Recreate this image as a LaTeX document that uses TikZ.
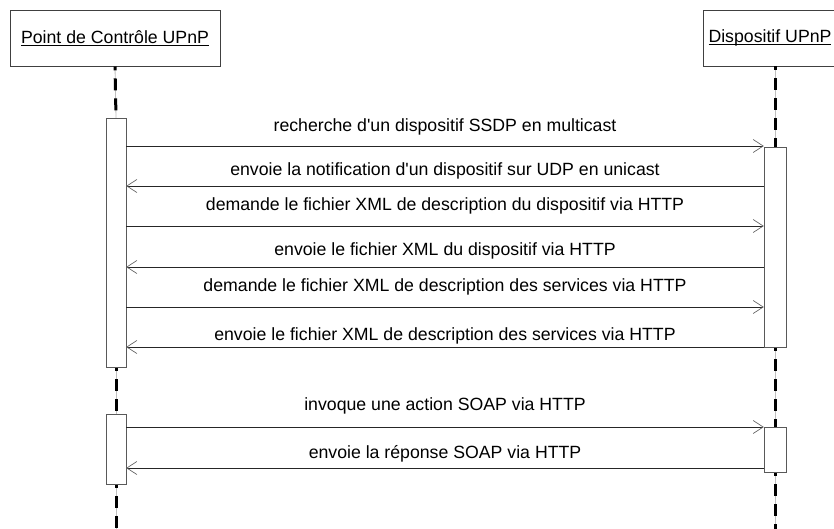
\documentclass[tikz,border=0pt]{standalone}
\usepackage{fontspec}
\setmainfont{Liberation Sans}[Ligatures=TeXOff]
\usetikzlibrary{arrows.meta}
\newcommand\myul[1]{\setbox0\hbox{#1}\rlap{\rule[-2.8pt]{\wd0}{0.9pt}}\box0}
\begin{document}
\begin{tikzpicture}[x=1pt,y=-1pt,
  font=\fontsize{17.7}{20}\selectfont,
  head/.style={draw=black!75,fill=white,line width=0.9pt,minimum height=56pt,inner sep=0pt},
  actbox/.style={draw=black!65,fill=white,line width=0.9pt,inner sep=0pt},
  life/.style={draw=black!25,line width=0.8pt,
    postaction={draw=black,line width=3pt,dash pattern=on 12pt off 8pt,dash phase=8pt}},
  msg/.style={draw=black!85,line width=1pt,
    -{Straight Barb[length=10pt,width=13pt,line width=0.7pt,color=black!60]}},
  lbl/.style={anchor=base,inner sep=0pt}]
\useasboundingbox (0,0) rectangle (834,528);
\clip (0,0) rectangle (834,528);
% heads
\node[head,minimum width=210pt] (pc) at (115,38) {\myul{Point de Contrôle UPnP}};
\node[head,minimum width=144pt] (dev) at (775,38) {\myul{Dispositif UPnP}\hspace*{10pt}};
% activation boxes (positions)
\coordinate (a1c) at (116,242.5);
\coordinate (a2c) at (116,449);
\coordinate (b1c) at (775,247);
\coordinate (b2c) at (775,449.5);
\coordinate (lend) at (116,530);
\coordinate (rend) at (775,530);
% lifelines
\path (a1c) node[minimum width=20pt,minimum height=249pt,inner sep=0pt] (a1) {};
\path (a2c) node[minimum width=20pt,minimum height=70pt,inner sep=0pt] (a2) {};
\path (b1c) node[minimum width=22pt,minimum height=200pt,inner sep=0pt] (b1) {};
\path (b2c) node[minimum width=22pt,minimum height=45pt,inner sep=0pt] (b2) {};
\draw[life] (pc.south) -- (a1.north);
\draw[life] (a1.south) -- (a2.north);
\draw[life] (a2.south) -- (lend);
\draw[life] (dev.south) -- (b1.north);
\draw[life] (b1.south) -- (b2.north);
\draw[life] (b2.south) -- (rend);
% draw activation boxes on top
\node[actbox,minimum width=20pt,minimum height=249pt] at (a1c) {};
\node[actbox,minimum width=20pt,minimum height=70pt] at (a2c) {};
\node[actbox,minimum width=22pt,minimum height=200pt] at (b1c) {};
\node[actbox,minimum width=22pt,minimum height=45pt] at (b2c) {};
% messages
\draw[msg] (a1.east |- 0,146) -- (b1.west |- 0,146);
\draw[msg] (b1.west |- 0,186) -- (a1.east |- 0,186);
\draw[msg] (a1.east |- 0,226) -- (b1.west |- 0,226);
\draw[msg] (b1.west |- 0,267) -- (a1.east |- 0,267);
\draw[msg] (a1.east |- 0,307) -- (b1.west |- 0,307);
\draw[msg] (b1.west |- 0,347) -- (a1.east |- 0,347);
\draw[msg] (a2.east |- 0,427) -- (b2.west |- 0,427);
\draw[msg] (b2.west |- 0,468) -- (a2.east |- 0,468);
% labels
\node[lbl] (t1) at (445,131) {recherche d'un dispositif SSDP en multicast};
\node[lbl] (t2) at (445,175) {envoie la notification d'un dispositif sur UDP en unicast};
\node[lbl] (t3) at (445,210) {demande le fichier XML de description du dispositif via HTTP};
\node[lbl] (t4) at (445,255) {envoie le fichier XML du dispositif via HTTP};
\node[lbl] (t5) at (445,291) {demande le fichier XML de description des services via HTTP};
\node[lbl] (t6) at (445,340) {envoie le fichier XML de description des services via HTTP};
\node[lbl] (t7) at (445,410) {invoque une action SOAP via HTTP};
\node[lbl] (t8) at (445,458) {envoie la réponse SOAP via HTTP};
\end{tikzpicture}
\end{document}
